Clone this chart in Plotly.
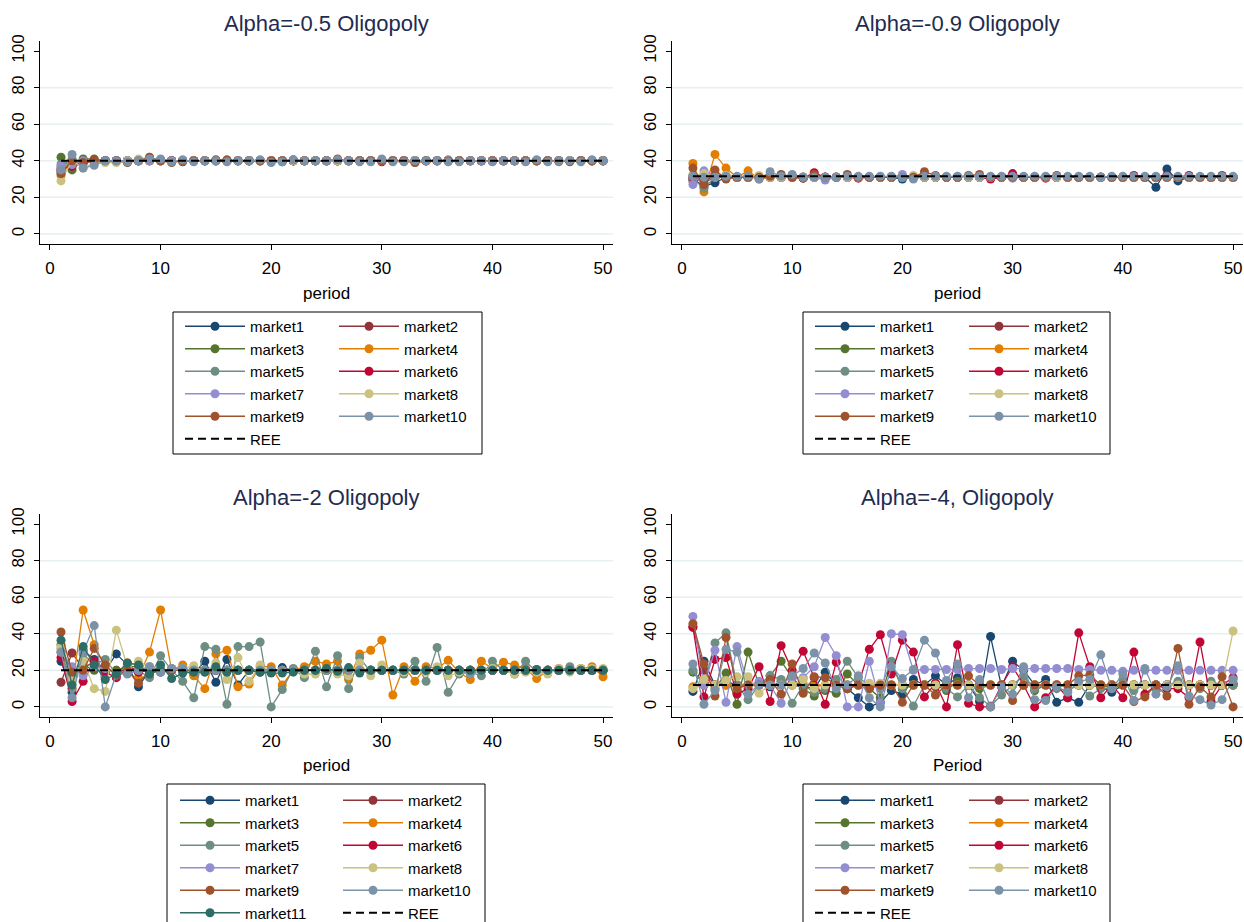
import plotly.graph_objects as go

periods = list(range(1, 51))

# ---------------- Panel 1: Alpha=-0.5 ----------------
p1_m1 = [34,39,39.5,40,40,40,39.5,40,40.5,40, 40,39.5,40,40,40,40,40,40,40,39.5, 40,40,40,40,40,40,40,40,40,40, 40,40,40,40,40,40,40,40,40,40, 40,40,40,40,40,40,40,40,40,40]
p1_m2 = [35,38,40,40,40,40,40,40,40.5,40, 40,40,40,40,40,40,40,40,40,40, 40,40,40,40,40,40,40,40,40,40, 40,40,40,40,40,40,40,40,40,40, 40,40,40,40,40,40,40,40,40,40]
p1_m3 = [42,35,41,41,40,40,40,40,40,40, 40,40,40,40,40,40,40,40,40,40, 39.5,40,40,40,40,40,40,40,40,40, 40,40,40,40,40,40,40,40,40,40, 40,40,40,40,40,40,40,40,40,40]
p1_m4 = [32,40,39,40,40,40,40,40,40,40, 40,40,40,40,40,40,40,40,40,40, 40,40,40,40,40,40,40,40,40,40, 40,40,39,40,40,40,40,40,40,40, 40,40,40,40,40,39.5,40,40,40,40]
p1_m5 = [38,41,39,40,40,40,40,40,40,40.5, 40,40,40,40,40,40,40,40,40,40, 40,40,40,40,40,40,40,40,40,40, 40,40,40,40,40,40,40,40,40,40, 40,40,40,40,40,40,40,40,40,40]
p1_m6 = [36,37,39,40,40,40,40,40,40,40, 40,40,40,40,40,40,40,40,40,40, 40,40,40,40,40,40,40,40,40,39.5, 40,40,40,40,40,40,40,40,40,40, 40,40,40,40,40,40,40,40,40,40]
p1_m7 = [37,38,40,39.5,40,40,40,40,40,40, 40,40,40,40,40,40,40,40,40,40, 40,40,40,40,40,40,40,40,40,40, 40,40,40,40,40,40.5,40,40,40,40, 40,40,40,40,40,40,40,40,40,40]
p1_m8 = [29,40,36,39,39,39,40,41,42,40, 39.5,40,40,40,40,40,40,40,40,40, 40,40,40,40,40,40,40,40,40,40, 40,40,40,40,40,40,40,40,40,40, 40,40,40,40,40,40,40,40,40,40]
p1_m9 = [33,40,39,40,40,40,39,40,42,40, 39,40,40,40,40.5,40.5,40,40,40,40, 40,40.5,40,40,40,41,40,40,40,40, 40,40,39,40,40,40,40,40,40,40, 40,40,40,40,40,40,39.5,40,40,40]
p1_m10 = [35,43.5,36,37.5,40,40,39.5,40,41,41, 39.5,40.5,39.5,40,40,39.5,40,40,40.5,39, 39.5,40.5,40,40,40,40.5,40,39.5,39.5,41, 39.5,39.5,40,40,40,39.5,39.5,40,40,39.5, 40,40,39.5,40.5,39.5,40,40,39.5,40.5,40]

# ---------------- Panel 2: Alpha=-0.9 ----------------
p2_m1 = [30,26,28,31,31,31,31,31.5,31,31.5, 31,31,31,31,31.5,31,31,31,31,30, 31,31,31,31,31,31,31,31,31,31, 31,31,31,31,31,31,31,31,31,31, 31,31,25.5,35.5,29,31,31,31,31,31]
p2_m2 = [29,30,32,31,31,31,31,31,31,31, 31,31,31,31,31,31,31,31,31,31, 31,31,31,31,31,31,31,31,31,31, 31,31,31,31,31,31,31,31,31,31, 31,31,31,31,31,31,31,31,32,31]
p2_m3 = [32,28,31,31,31,31,31,31,31,31, 31,31,31,31,31,31,31,31,31,31, 31,31,31,31,31,31,31,31,31,31, 31,31,31,31,31,31,31,31,31,31, 31,31,31,31,31,31,31,31,31,31]
p2_m4 = [38.5,23,43.5,36,31,34.5,30,31,31,31, 31,31,31,31,31,31,31,31,31,31, 31,31,31,31,31,31,31,31,31,31, 31,31,31,31,31,31,31,31,31,31, 31,31,31,31,31,31,31,31,31,31]
p2_m5 = [30,25,31,31,31,31,31,31,31,31, 31,31,31,31,31,31,31,31,31,31, 31,31,31,31,31,31,31,31,31,31, 31,31,31,31,31,31,31,31,31,31, 31,31,31,31,31,31,31,31,31,31]
p2_m6 = [31,30,31,31,31,31,31,31,31,31, 30.5,33.5,31,31,31,30.5,31,31,31,31, 31,31,31,31,31,31,31,30,31,33, 31,31,30.5,31,31,31,31,31,31,31, 32,31,31,32,31,32,31,31,31,31]
p2_m7 = [27,34.5,32,32,31,31,31,31,31,32, 31,31,29.5,31,31,31,31,31,31,32.5, 31,31,31,31,31,31,31,31,31,30.5, 31,31,31,31,31,31,31,31,31,31, 31,31,31,31,31,31,31,31,31,31]
p2_m8 = [32,33,31,32,31,31,32,31,31,31, 31,31,31,31,31,31,31,31,31,31, 32,31,31,31,31,31,31,31,31,31, 31,31,31,31,31,31,31,31,31,31, 31,31,31,31,31,31,31,31,31,31]
p2_m9 = [36,27,35,30,31,31,31,31.5,32.5,31, 30.5,32.5,31,31,32.5,31,31,31,31,31, 31,34,32,31,31,32,32.5,31,31,31, 31,31,31,32,31,31,31,31,31,31, 31,31,31,31,31,31,31,31,31,31]
p2_m10 = [31.5,31,31,31.5,31.5,31.5,30,34,31.5,32.5, 31,31,31,31,31.5,31.5,31.5,31.5,31.5,31, 30,31.5,31.5,31.5,31.5,31.5,31.5,31.5,31.5,31.5, 31.5,31.5,31.5,31.5,31.5,31.5,31.5,31,31.5,31.5, 31.5,31.5,31.5,31.5,31.5,31.5,31.5,31.5,31.5,31.5]

# ---------------- Panel 3: Alpha=-2 ----------------
p3_m1 = [25,8,31,26,20,29,23,11,20,19, 20,20,18,25,13.5,26,12,20,19,19, 21.5,20,20,20,20,20,20,20,20,20, 20,20,20,20,20,20,20,20,20,20, 20,20,20,20.5,20,20,20,20,20,20]
p3_m2 = [13.5,29.5,21,25,20,20,20,20,20,20, 20,20,20,20,20,20,20,20,20,20, 20,20,20,20,20,20,20,20,20,20, 20,20,20,20,20,20,20,20,20,20, 20,20,20,20,20,20,20,20,20,20]
p3_m3 = [34,18,23,20,20,20,22,22,18,20, 20,20,20,20,20,20,20,20,20,20, 20,20,20,20,20,20,20,20,20,20, 20,20,20,20,20,20,20,20,20,20, 20,20,20,20,20,20,20,20,20,20]
p3_m4 = [30,10,53,34,22,18,24,16,30,53, 20,23,17,10,29,31,11,12.5,22,22, 12,20,22,25,23.5,25,15,29,31,36.5, 6.5,22,14,22,21,25.5,19,15,25,21, 24.5,23,21,15.5,20,21,20,21,22,16.5]
p3_m5 = [32,10,29,23,26,18,21,20,16,28, 20,14,5,33,31.5,1.5,33,33,35.5,0, 9.5,21,16,30.5,11,28,10,27,19,20, 20,18,25,14,32.5,8,18,19,17,25, 20,18,25,19,19,20,22,20,20,20]
p3_m6 = [27,3,14,25,19,16,23,19,20,20, 20,20,20,20,20,20,20,20,20,20, 20,20,20,20,20,20,20,20,20,20, 20,20,20,20,20,20,20,20,20,20, 20,20,20,20,20,20,20,20,20,20]
p3_m7 = [30,22,17,22,21,18,20,20,22,19, 21,21,20,20,20,20,20,20,20,20, 20,20,20,20,20,20,20,20,20,20, 20,20,20,20,20,20,20,20,20,20, 20,20,20,20,20,20,20,20,20,20]
p3_m8 = [33,15,25,10,8.5,42,22,25,22,20, 20,21,22.5,19,24,15,27,14,23,19, 20,20,18,18,20,18,17,24,17,23, 20,19,20,19,22,17,19,20,20,21, 20,18,19,19,18,21,19,21,21,21]
p3_m9 = [41,19,20,32,23,17,20,13,20,20, 20,20,20,20,20,20,20,20,20,20, 20,20,20,20,20,20,20,20,20,20, 20,20,20,20,20,20,20,20,20,20, 20,20,20,20,20,20,20,20,20,20]
p3_m10 = [30,5,30,44.5,0,18,18,20,22,19, 21,21,20,20,20,20,20,20,20,20, 20,20,20,20,20,20,20,20,20,20, 20,20,20,20,20,20,20,18,20,20, 20,20,20,20,20,20,20,20,20,20]
p3_m11 = [36.5,12,33,23,15,18,24,23,18,23, 15.5,18.5,19,19,22,19,20,20,19,18.5, 18.5,19,20,20,21,19.5,21.5,18.5,20,20, 20,20,20,20,20,20,20,20,20,20, 20,20,20,20,20,20,20,20,20,20]

# ---------------- Panel 4: Alpha=-4 ----------------
p4_m1 = [8.5,25,12,14,12,12,12,11,14,12, 11,10,19,12,10,5,0,2.5,9,7, 15,12,17,12,16,12,3,38.5,11,25, 20,12,15,2.5,5,2.5,12,11,8,12, 12,12,12,12,12,12,12,12,12,13]
p4_m2 = [44,20,12,12,11,12,12,12,12,13, 12,12,11,12,12,12,11,12,12,12, 12,12,11,12,12,12,12,12,12,12, 12,12,12,12,12,12,12,12,12,12, 12,12,12,12,12,12,12,12,12,12]
p4_m3 = [19,14,10,18.5,1.5,30,12,17,25,16, 10,6,9,7.5,18,12,10,5,24,10, 12,12,12,9,14,12,10,12,12,12, 17,9,12,11,12,12,12,12,10,12, 12,12,12,12,12,12,12,12,12,12]
p4_m4 = [11,12,12,12,12,12,12,12,12,12, 12,12,12,12,12,12,12,12,12,12, 12,12,12,12,12,12,12,12,12,12, 12,12,12,12,12,12,12,12,12,12, 12,12,12,12,12,12,12,12,12,12]
p4_m5 = [20,12,35,40.5,12,4,12,17,15,2, 12,8,10,15,25,16,12,10,25,10, 0.5,12,13,10,5.5,12,5,0.5,6.5,12, 17,10,12,10,9,12,6,10,10,15, 9,12,10,12,14,12,10,14,12,12]
p4_m6 = [43.5,5.5,26,27,7,10,22,3,33.5,20, 30.5,16,1.5,24.5,10,12,31.5,39.5,18,36.5, 30,5.5,13,0,34,2,0,0,12,22, 12,0,5,12,5,40.5,22,5,12,5, 30,7,12,10,10,5,35.5,3,12,16]
p4_m7 = [49.5,12,31,2.5,33,12,14,12,2,16, 16,22,38,28,0,0,25,2,40,39.5, 20,20.5,20.5,20.5,20.5,21,21,21,20.5,21, 21,21,21,21,21,20.5,20.5,20,20,19.5, 20,20,20,20,20,20,20,20,20,20]
p4_m8 = [10,15,12,14.5,16.5,16.5,7.5,12,12,12, 15,10,12,12,12,12,13,13,12,12, 12,12,12,12,12,12,12,12,12,12, 12,12,12,12,12,12,12,12,12,12, 12,12,12,12,12,12,12,12,12,41.5]
p4_m9 = [45.5,23.5,6,38,10,12,12,15,7,23.5, 7.5,16.5,16,12,10,12,10,12,12,2.5, 12,12,6.5,12,12,17,12,12,12,3.5, 12,12,12,12,12,17,17.5,12,12,12, 3,5.5,12,6,32,1.5,11,5.5,16.5,0]
p4_m10 = [23.5,1.5,9,31.5,30,7,12,12,12,17, 21,29.5,24,10,12,17,5,0,22,15.5, 20.5,36.5,29.5,14.5,23.5,5,15,0,11,7, 22,4,3.5,11,8,14,15,28.5,10,18, 3.5,21,7,11,22.5,6,4,1,4,15]

ree_values = [40, 31.5, 20, 12]
titles = ["Alpha=-0.5 Oligopoly", "Alpha=-0.9 Oligopoly", "Alpha=-2 Oligopoly", "Alpha=-4, Oligopoly"]
xtitles = ["period", "period", "period", "Period"]
market_names = ["market1", "market2", "market3", "market4", "market5", "market6",
                "market7", "market8", "market9", "market10", "market11"]
x_ticks = [0, 10, 20, 30, 40, 50]
y_ticks = [0, 20, 40, 60, 80, 100]
grid_vals = [0, 20, 40, 60, 80]

colors = ["#1a476f", "#90353b", "#55752f", "#e37e00", "#6e8e84", "#c10534",
          "#938dd2", "#cac27e", "#a0522d", "#7b92a8", "#2d6d66"]

panel_series = [
    [p1_m1, p1_m2, p1_m3, p1_m4, p1_m5, p1_m6, p1_m7, p1_m8, p1_m9, p1_m10],
    [p2_m1, p2_m2, p2_m3, p2_m4, p2_m5, p2_m6, p2_m7, p2_m8, p2_m9, p2_m10],
    [p3_m1, p3_m2, p3_m3, p3_m4, p3_m5, p3_m6, p3_m7, p3_m8, p3_m9, p3_m10, p3_m11],
    [p4_m1, p4_m2, p4_m3, p4_m4, p4_m5, p4_m6, p4_m7, p4_m8, p4_m9, p4_m10],
]

W, H = 1244, 922
def px(x):
    return x / W
def py(y):
    return 1 - y / H

# plot-area pixel boxes (left, right, top, bottom)
boxes = [(40, 613, 41, 244), (672, 1243, 41, 244), (40, 613, 514, 717), (672, 1243, 514, 717)]
title_y = [24, 24, 497, 497]
xtitle_y = [293, 293, 765, 765]
# legend frame boxes (l, r, t, b)
leg_boxes = [(173, 482, 312, 454), (803, 1110, 312, 454), (167, 485, 784, 930), (803, 1110, 784, 930)]
# legend column x positions and first row centre y
leg_cols = [(180, 334), (810, 964), (175, 338), (810, 964)]
leg_row1 = [326, 326, 800, 800]

FONT = "Liberation Sans, Arial, sans-serif"
fig = go.Figure()

for pi, series in enumerate(panel_series):
    ax = "" if pi == 0 else str(pi + 1)
    xa, ya = "x" + ax, "y" + ax
    legL = "legend" if pi == 0 else "legend" + str(2 * pi + 1)
    legR = "legend" + str(2 * pi + 2)
    n = len(series)
    for mi, vals in enumerate(series):
        fig.add_trace(go.Scatter(
            x=periods, y=vals, mode="lines+markers", name=market_names[mi],
            line=dict(color=colors[mi], width=1.3),
            marker=dict(color=colors[mi], size=9),
            xaxis=xa, yaxis=ya,
            legend=legL if mi % 2 == 0 else legR,
        ))
    ree_leg = legR if n % 2 == 1 else legL
    fig.add_trace(go.Scatter(
        x=[periods[0], periods[-1]], y=[ree_values[pi], ree_values[pi]], mode="lines", name="REE",
        line=dict(color="black", width=2, dash="8px,5px"),
        xaxis=xa, yaxis=ya, legend=ree_leg,
    ))

layout = dict(
    width=W, height=H, margin=dict(l=0, r=0, t=0, b=0, autoexpand=False),
    paper_bgcolor="white", plot_bgcolor="white",
    font=dict(family=FONT, color="black"),
    showlegend=True,
)
annotations = []
shapes = []
for pi in range(4):
    ax = "" if pi == 0 else str(pi + 1)
    l, r, t, b = boxes[pi]
    layout["xaxis" + ax] = dict(
        domain=[px(l), px(r)], range=[-0.9, 50.9], anchor="y" + ax,
        tickvals=x_ticks, ticks="outside", ticklen=5, tickcolor="black",
        showline=True, linecolor="black", linewidth=1, showgrid=False, zeroline=False,
        tickfont=dict(size=17, family=FONT), ticklabelstandoff=4,
    )
    layout["yaxis" + ax] = dict(
        domain=[py(b), py(t)], range=[-5.5, 105.5], anchor="x" + ax,
        tickvals=y_ticks, ticks="outside", ticklen=5, tickcolor="black", tickangle=-90,
        showline=True, linecolor="black", linewidth=1, showgrid=False, zeroline=False,
        tickfont=dict(size=17, family=FONT), ticklabelstandoff=3,
    )
    for g in grid_vals:
        shapes.append(dict(type="line", xref=("x" + ax) + " domain", yref="y" + ax,
                           x0=0, x1=1, y0=g, y1=g, line=dict(color="#e6eff1", width=1.5), layer="below"))
    annotations.append(dict(text=titles[pi], x=px((l + r) / 2), y=py(title_y[pi]), xref="paper", yref="paper",
                            showarrow=False, xanchor="center", yanchor="middle",
                            font=dict(size=22, color="#1e2c50", family=FONT)))
    annotations.append(dict(text=xtitles[pi], x=px((l + r) / 2), y=py(xtitle_y[pi]), xref="paper", yref="paper",
                            showarrow=False, xanchor="center", yanchor="middle",
                            font=dict(size=17, color="black", family=FONT)))
    bl, br, bt, bb = leg_boxes[pi]
    shapes.append(dict(type="rect", xref="paper", yref="paper", x0=px(bl), x1=px(br), y0=py(bb), y1=py(bt),
                       line=dict(color="black", width=1), fillcolor="rgba(0,0,0,0)"))
    legL = "legend" if pi == 0 else "legend" + str(2 * pi + 1)
    legR = "legend" + str(2 * pi + 2)
    for k, name in enumerate([legL, legR]):
        layout[name] = dict(
            x=px(leg_cols[pi][k]), y=py(leg_row1[pi] - 16), xanchor="left", yanchor="top",
            xref="container", yref="container",
            orientation="v", bgcolor="rgba(0,0,0,0)", borderwidth=0,
            font=dict(size=15, family=FONT, color="black"),
            itemwidth=60, itemclick=False, itemdoubleclick=False,
        )

layout["annotations"] = annotations
layout["shapes"] = shapes
fig.update_layout(**layout)

fig.write_html("out.html", config={"displayModeBar": False},
               post_script="document.body.style.margin='0';")
